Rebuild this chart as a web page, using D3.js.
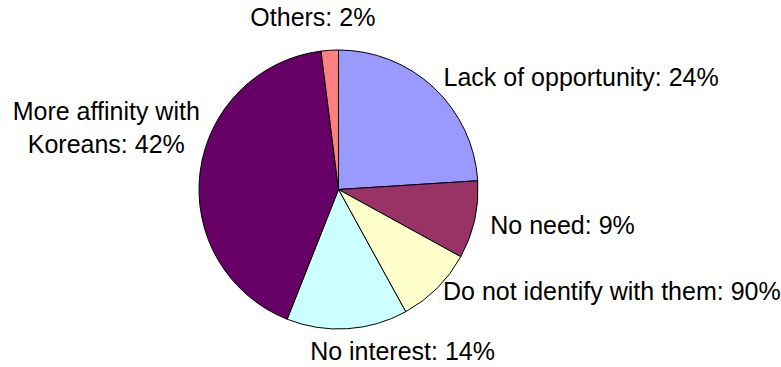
<!DOCTYPE html>
<html>
<head>
<meta charset="utf-8">
<script src="https://cdn.jsdelivr.net/npm/d3@7"></script>
<style>
  html, body { margin: 0; padding: 0; background: #fff; }
  svg { display: block; }
  text { font-family: "Liberation Sans", Arial, sans-serif; font-size: 25px; fill: #000; }
</style>
</head>
<body>
<svg id="chart" width="781" height="367"></svg>
<script>
// Reasons given, clockwise from 12 o'clock
const categories = [
  "Lack of opportunity",
  "No need",
  "Do not identify with them",
  "No interest",
  "More affinity with Koreans",
  "Others"
];
// Share of respondents (%)
const values = [24, 9, 9, 14, 42, 2];
// Percentages as printed beside each slice
const printedPct = ["24%", "9%", "90%", "14%", "42%", "2%"];
const colors = ["#9999FF", "#993366", "#FFFFCC", "#CCFFFF", "#660066", "#FF8080"];

const width = 781, height = 367;
const cx = 338.5, cy = 189.5, radius = 139.5;
const labelRadius = radius * 1.1;

// label placement: text anchor, offset from the label-arc point, line breaks
const labelLayout = [
  { anchor: "start",  dx: 0,   dy: 0,   lines: null },
  { anchor: "start",  dx: 2,   dy: 2,   lines: null },
  { anchor: "start",  dx: -4,  dy: -7,  lines: null },
  { anchor: "start",  dx: -38, dy: 9,   lines: null },
  { anchor: "middle", dx: -80, dy: -59, lines: ["More affinity with", "Koreans: "] },
  { anchor: "middle", dx: -16, dy: -19, lines: null }
];

const data = categories.map((c, i) => ({ name: c, value: values[i], pct: printedPct[i], color: colors[i], layout: labelLayout[i] }));

const svg = d3.select("#chart");
const g = svg.append("g").attr("transform", `translate(${cx},${cy})`);

const pie = d3.pie().value(d => d.value).sort(null);
const arc = d3.arc().innerRadius(0).outerRadius(radius);
const labelArc = d3.arc().innerRadius(labelRadius).outerRadius(labelRadius);

const arcs = pie(data);

g.selectAll("path.slice")
  .data(arcs)
  .enter().append("path")
  .attr("class", "slice")
  .attr("d", arc)
  .attr("fill", d => d.data.color)
  .attr("stroke", "#000")
  .attr("stroke-width", 1)
  .attr("stroke-linejoin", "round");

const labels = g.selectAll("text.label")
  .data(arcs)
  .enter().append("text")
  .attr("class", "label")
  .attr("text-anchor", d => d.data.layout.anchor)
  .attr("transform", d => {
    const [x, y] = labelArc.centroid(d);
    return `translate(${x + d.data.layout.dx},${y + d.data.layout.dy})`;
  });

labels.each(function(d) {
  const t = d3.select(this);
  const L = d.data.layout;
  if (L.lines) {
    t.append("tspan").attr("x", 0).attr("dy", "0.35em").text(L.lines[0]);
    t.append("tspan").attr("x", 0).attr("dy", "1.32em").text(L.lines[1] + d.data.pct);
  } else {
    t.append("tspan").attr("x", 0).attr("dy", "0.35em").text(`${d.data.name}: ${d.data.pct}`);
  }
});
</script>
</body>
</html>
